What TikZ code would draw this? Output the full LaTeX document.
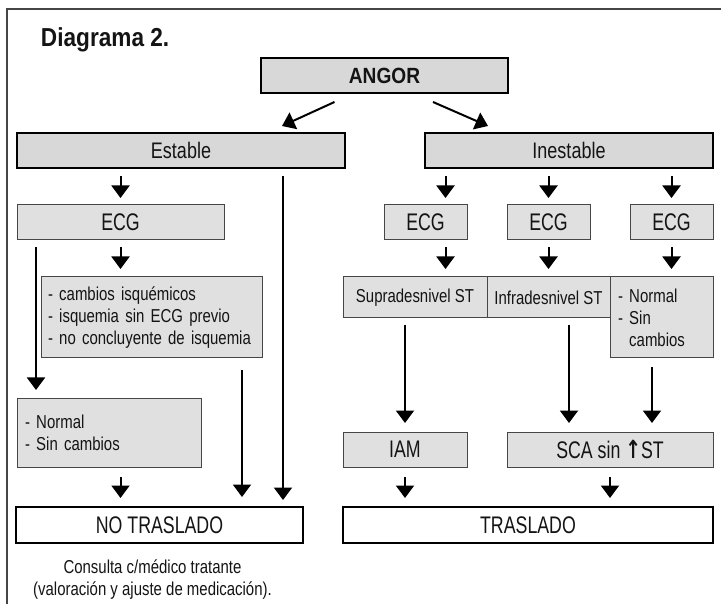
\documentclass[tikz,border=0pt]{standalone}
\usepackage{fontspec}
\setmainfont{Liberation Sans}
\newfontfamily\condfont{Liberation Sans}[FakeStretch=0.8]
\newfontfamily\narrowfont{Liberation Sans}[FakeStretch=0.74]
\newfontfamily\headfont{Liberation Sans}[FakeStretch=0.87]
\newfontfamily\symfont{DejaVu Sans}[FakeStretch=0.75]
\usetikzlibrary{arrows.meta,calc}
\definecolor{boxgray}{RGB}{216,216,216}
\definecolor{cellgray}{RGB}{224,224,224}
\definecolor{ink}{RGB}{20,20,20}
\definecolor{rulegray}{RGB}{70,70,70}

\begin{document}
\begin{tikzpicture}[x=1pt,y=-1pt,
  every node/.style={inner sep=0pt, outer sep=0pt, text=ink},
  bigbox/.style={draw=black, line width=2.4pt, fill=boxgray, minimum height=35pt},
  whitebox/.style={draw=black, line width=2.4pt, fill=white, minimum height=36pt},
  cellbox/.style={draw=rulegray, line width=1pt, fill=cellgray},
  captxt/.style={font=\narrowfont\fontsize{24}{28}\selectfont},
  midtxt/.style={font=\condfont\fontsize{22.5}{26}\selectfont},
  smalltxt/.style={font=\condfont\fontsize{18.7}{22}\selectfont},
  arr/.style={line width=2pt, -{Triangle[width=18pt,length=12.5pt]}}
]
\useasboundingbox (0,0) rectangle (721,604);

% outer frame (top and left rules)
\draw[rulegray, line width=1.5pt] (721,9) -- (7,9) -- (7,604);

% title
\node[anchor=base west, font=\headfont\bfseries\fontsize{26}{30}\selectfont] (title) at (41,47) {Diagrama 2.};

% top level
\node[bigbox, minimum width=247pt, font=\headfont\bfseries\fontsize{22}{26}\selectfont] (angor) at (384.5,75.5) {ANGOR};
\node[bigbox, minimum width=328pt, midtxt] (estable) at (181,150.5) {Estable};
\node[bigbox, minimum width=288pt, midtxt] (inestable) at (569,150.5) {Inestable};

% stable branch
\node[cellbox, minimum width=207pt, minimum height=35pt, captxt] (ecgL) at (120.5,222.5) {ECG};
\node[cellbox, minimum width=221pt, minimum height=81pt, text width=207pt, align=left, smalltxt] (cambios) at (151.5,317.5)
  {- cambios isquémicos\\- isquemia sin ECG previo\\- no concluyente de isquemia};
\node[cellbox, minimum width=184pt, minimum height=69pt, text width=168pt, align=left, smalltxt] (normalL) at (109,432.5)
  {- Normal\\- Sin cambios};
\node[whitebox, minimum width=287pt, captxt] (notras) at (159.5,525) {NO TRASLADO};
\node[anchor=north, align=center, font=\condfont\fontsize{18.7}{22}\selectfont] (consulta) at ([shift={(-7,17)}]notras.south)
  {Consulta c/médico tratante\\(valoración y ajuste de medicación).};

% unstable branch
\node[cellbox, minimum width=83pt, minimum height=35pt, captxt] (ecg1) at (425.5,222.5) {ECG};
\node[cellbox, minimum width=83pt, minimum height=35pt, captxt] (ecg2) at (548.5,222.5) {ECG};
\node[cellbox, minimum width=83pt, minimum height=35pt, captxt] (ecg3) at (671.5,222.5) {ECG};
\node[cellbox, minimum width=144pt, minimum height=41pt, smalltxt] (supra) at (415,297.5) {Supradesnivel ST};
\node[cellbox, minimum width=123pt, minimum height=41pt, smalltxt] (infra) at (548.5,297.5) {Infradesnivel ST};
\node[cellbox, minimum width=103pt, minimum height=81pt, text width=87pt, align=left, smalltxt] (normalR) at (661.5,317.5)
  {- Normal\\- Sin\\\phantom{- }cambios};
\node[cellbox, minimum width=124pt, minimum height=35pt, captxt] (iam) at (405,449.5) {IAM};
\node[cellbox, minimum width=206pt, minimum height=35pt, captxt] (sca) at (610,449.5)
  {SCA sin {\symfont\bfseries\fontsize{25}{28}\selectfont ↑}ST};
\node[whitebox, minimum width=370pt, captxt] (tras) at (528,525) {TRASLADO};

% connectors from the root
\draw[arr] ([shift={(-50,9)}]angor.south) -- ([shift={(101,-7)}]estable.north);
\draw[arr] ([shift={(48.5,9)}]angor.south) -- ([shift={(-81,-7)}]inestable.north);

% stable connectors
\draw[arr, shorten <=8pt, shorten >=7pt] (ecgL.north |- estable.south) -- (ecgL.north);
\draw[arr, shorten <=8pt, shorten >=7pt] ([xshift=-20pt]notras.north east |- estable.south) -- ([xshift=-20pt]notras.north east);
\draw[arr, shorten <=7pt, shorten >=8pt] (ecgL.south) -- (ecgL.south |- cambios.north);
\draw[arr, shorten <=7pt, shorten >=8pt] ([xshift=19pt]ecgL.south west) -- ([xshift=19pt]ecgL.south west |- normalL.north);
\draw[arr, shorten <=12pt, shorten >=10pt] ([xshift=-20pt]cambios.south east) -- ([xshift=-20pt]cambios.south east |- notras.north);
\draw[arr, shorten <=10pt, shorten >=9pt] (ecgL.south |- normalL.south) -- (ecgL.south |- notras.north);

% unstable connectors
\draw[arr, shorten <=8pt, shorten >=7pt] ([xshift=20pt]ecg1.north |- inestable.south) -- ([xshift=20pt]ecg1.north);
\draw[arr, shorten <=8pt, shorten >=7pt] (ecg2.north |- inestable.south) -- (ecg2.north);
\draw[arr, shorten <=8pt, shorten >=7pt] (ecg3.north |- inestable.south) -- (ecg3.north);
\draw[arr, shorten <=7pt, shorten >=8pt] ([xshift=20pt]ecg1.south) -- ([xshift=20pt]ecg1.south |- supra.north);
\draw[arr, shorten <=7pt, shorten >=8pt] (ecg2.south) -- (ecg2.south |- infra.north);
\draw[arr, shorten <=7pt, shorten >=8pt] (ecg3.south) -- (ecg3.south |- normalR.north);
\draw[arr, shorten <=7pt, shorten >=9pt] (iam.north |- supra.south) -- (iam.north);
\draw[arr, shorten <=7pt, shorten >=9pt] ([xshift=20.5pt]infra.south) -- ([xshift=20.5pt]infra.south |- sca.north);
\draw[arr, shorten <=9pt, shorten >=9pt] ([xshift=-9.5pt]normalR.south) -- ([xshift=-9.5pt]normalR.south |- sca.north);
\draw[arr, shorten <=10pt, shorten >=9pt] (iam.south) -- (iam.south |- tras.north);
\draw[arr, shorten <=10pt, shorten >=9pt] (sca.south) -- (sca.south |- tras.north);
\end{tikzpicture}
\end{document}
